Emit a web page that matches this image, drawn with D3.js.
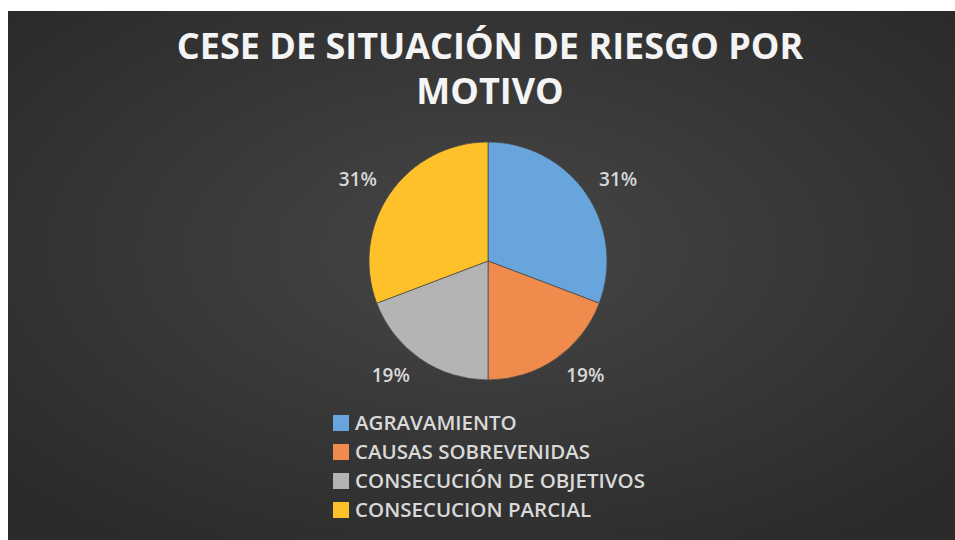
<!DOCTYPE html>
<html>
<head>
<meta charset="utf-8">
<script src="https://cdn.jsdelivr.net/npm/d3@7"></script>
<style>
    body { margin: 0; background: #ffffff; }
    #chart { width: 955px; height: 540px; }
</style>
</head>
<body>
<div id="chart"></div>
<script>
let width = 955;
let height = 540;

// data
let categories = ["AGRAVAMIENTO", "CAUSAS SOBREVENIDAS", "CONSECUCIÓN DE OBJETIVOS", "CONSECUCION PARCIAL"];
let values = [8, 5, 5, 8];
let colors = ["#69a5dd", "#ef8b4c", "#b4b4b4", "#ffc12a"];
let titleLines = ["CESE DE SITUACIÓN DE RIESGO POR", "MOTIVO"];

let cx = 488;
let cy = 261;
let radius = 119;

let svg = d3.select("#chart")
    .append("svg")
    .attr("width", width)
    .attr("height", height);

let defs = svg.append("defs");
let grad = defs.append("radialGradient")
    .attr("id", "bg")
    .attr("cx", "50%")
    .attr("cy", "45%")
    .attr("r", "65%");
grad.append("stop").attr("offset", "0%").attr("stop-color", "#464646");
grad.append("stop").attr("offset", "100%").attr("stop-color", "#2b2b2b");

svg.append("rect")
    .attr("x", 8)
    .attr("y", 11)
    .attr("width", width - 8)
    .attr("height", height - 11)
    .attr("fill", "url(#bg)");

// title, two lines
svg.append("g")
    .selectAll("text")
    .data(titleLines)
    .join("text")
    .attr("x", 490)
    .attr("y", (d, i) => 59 + i * 45)
    .attr("text-anchor", "middle")
    .attr("font-family", "'Open Sans', sans-serif")
    .attr("font-weight", "bold")
    .attr("font-size", 36)
    .attr("fill", "#f4f4f4")
    .text(d => d);

let pie = d3.pie().sort(null).value(d => d);
let arcs = pie(values);
let arc = d3.arc().innerRadius(0).outerRadius(radius);
let total = d3.sum(values);

let g = svg.append("g").attr("transform", `translate(${cx},${cy})`);

g.selectAll("path")
    .data(arcs)
    .join("path")
    .attr("d", arc)
    .attr("fill", (d, i) => colors[i])
    .attr("stroke", "#484848")
    .attr("stroke-width", 0.75);

// outside-end labels
let labelW = 48, labelH = 16, gap = 10;
g.selectAll("text.lbl")
    .data(arcs)
    .join("text")
    .attr("class", "lbl")
    .attr("x", d => {
        let a = (d.startAngle + d.endAngle) / 2;
        let s = Math.sin(a);
        return (radius + gap) * s + Math.sign(s) * labelW / 2;
    })
    .attr("y", d => {
        let a = (d.startAngle + d.endAngle) / 2;
        let c = -Math.cos(a);
        return (radius + gap) * c + Math.sign(c) * labelH / 2;
    })
    .attr("dy", "0.35em")
    .attr("text-anchor", "middle")
    .attr("font-family", "'Open Sans', sans-serif")
    .attr("font-weight", 600)
    .attr("font-size", 19)
    .attr("fill", "#d9d9d9")
    .text(d => Math.round(d.data / total * 100) + "%");

// legend
let legend = svg.append("g").attr("transform", "translate(333,423)");
let rows = legend.selectAll("g")
    .data(categories)
    .join("g")
    .attr("transform", (d, i) => `translate(0,${i * 29})`);

rows.append("rect")
    .attr("x", 0)
    .attr("y", -8)
    .attr("width", 16)
    .attr("height", 16)
    .attr("fill", (d, i) => colors[i]);

rows.append("text")
    .attr("x", 22)
    .attr("y", 0)
    .attr("dy", "0.35em")
    .attr("font-family", "'Open Sans', sans-serif")
    .attr("font-weight", 600)
    .attr("font-size", 20.5)
    .attr("fill", "#d9d9d9")
    .text(d => d);
</script>
</body>
</html>
